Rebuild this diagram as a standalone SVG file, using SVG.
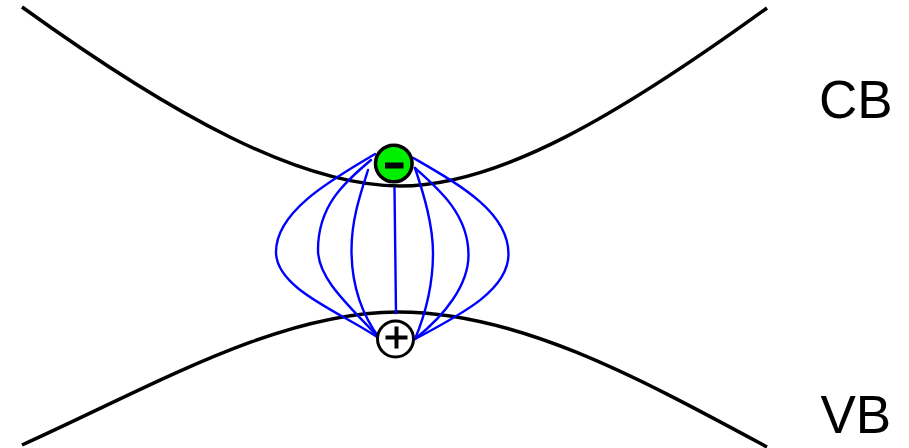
<svg xmlns="http://www.w3.org/2000/svg" width="909" height="448" viewBox="0 0 909 448">
  <style>
    .band { fill: none; stroke: #000; stroke-width: 3.5; stroke-linecap: butt; }
    .field { fill: none; stroke: #0000ff; stroke-width: 2.4; stroke-linecap: round; }
    .label { font-family: "Liberation Sans", Arial, sans-serif; font-size: 53px; fill: #000; }
    .sign { fill: #000; }
  </style>
  <rect x="0" y="0" width="909" height="448" fill="#fff"/>
  <g id="bands">
    <path id="cb-band" class="band" d="M22,7 C172,115 300,186 400,186 C500,186 622,113 767,8"/>
    <path id="vb-band" class="band" d="M22,445 C152,386.5 278,312 398,312 C518,312 637,377 767,447"/>
  </g>
  <g id="connectors">
    <path class="field" d="M375,154 C335,178 276,210 276,252 C276,290 345,314 380,339"/>
    <path class="field" d="M371,160 C345,182 318,205 318,250 C318,280 352,308 380,339"/>
    <path class="field" d="M368,170 C360,195 351.5,220 351.5,250 C351.5,285 362,315 380,339"/>
    <path class="field" d="M394.5,188 L396,313"/>
    <path class="field" d="M415,168 C424,195 433,225 433,253 C433,285 425,315 415,339"/>
    <path class="field" d="M415,168 C440,190 468.5,215 468.5,255 C468.5,285 445,315 415,339"/>
    <path class="field" d="M413.5,158 C460,185 508.5,212 508.5,254 C508.5,290 462,314 415,339"/>
  </g>
  <g id="electron">
    <circle cx="393.8" cy="163.5" r="18.3" fill="#00ee00" stroke="#000" stroke-width="3.5"/>
    <rect class="sign" x="385" y="162.5" width="18.5" height="6"/>
  </g>
  <g id="hole">
    <circle cx="395.5" cy="339" r="18" fill="#fff" stroke="#000" stroke-width="3"/>
    <rect class="sign" x="385.5" y="335.5" width="22" height="4"/>
    <rect class="sign" x="394.5" y="326.5" width="4" height="22"/>
  </g>
  <g id="label-cb">
    <text class="label" x="819" y="118">CB</text>
  </g>
  <g id="label-vb">
    <text class="label" x="820.5" y="433">VB</text>
  </g>
</svg>
